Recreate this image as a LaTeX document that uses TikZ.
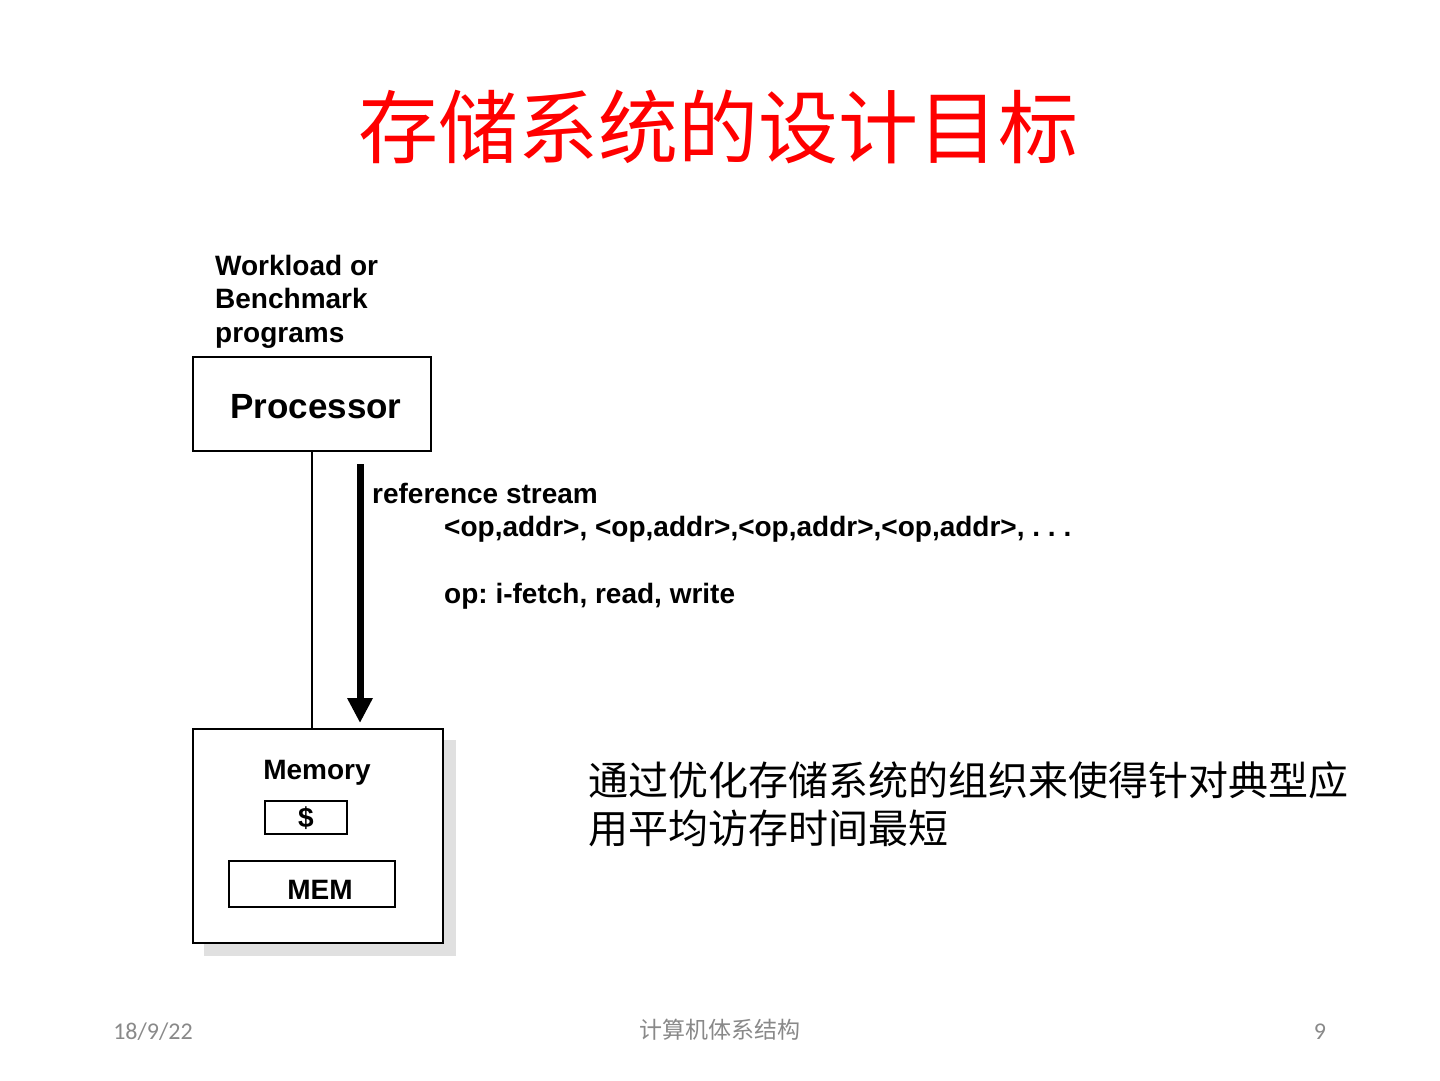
\documentclass[tikz,border=0pt]{standalone}
\usepackage{fontspec}
\setmainfont{Liberation Sans}
\newfontfamily\cjk{Noto Sans CJK SC}
\newfontfamily\foot{Carlito}
\usetikzlibrary{arrows.meta}
\definecolor{footgray}{RGB}{137,137,137}
\definecolor{shadowgray}{RGB}{224,224,224}
\frenchspacing
\tikzset{
  lbl/.style={inner sep=0pt, font=\fontsize{28}{33}\selectfont\bfseries, anchor=base west},
  lblc/.style={inner sep=0pt, font=\fontsize{28}{33}\selectfont\bfseries, anchor=base},
  boxx/.style={draw=black, line width=2pt, fill=white, inner sep=0pt},
  cn/.style={inner sep=0pt, font=\cjk\fontsize{40}{48}\selectfont, anchor=base west},
  ft/.style={inner sep=0pt, text=footgray, anchor=base}
}
\begin{document}
\begin{tikzpicture}[x=1pt,y=-1pt]
\useasboundingbox (0,0) rectangle (1440,1080);
% title
\node[inner sep=0pt, anchor=base, text=red, font=\cjk\fontsize{80}{90}\selectfont] (title) at (718,157) {存储系统的设计目标};
% workload
\node[lbl] (w1) at (215,275) {Workload or};
\node[lbl] (w2) at (215,308) {Benchmark};
\node[lbl] (w3) at (215,342) {programs};
% processor
\node[boxx, minimum width=238pt, minimum height=94pt] (proc) at (312,404) {};
\node[inner sep=0pt, anchor=base, font=\fontsize{35}{40}\selectfont\bfseries] (proct) at (316,418) {Processor};
% memory shadow and box
\fill[shadowgray] (204,740) rectangle (456,956);
\node[boxx, minimum width=250pt, minimum height=214pt] (mem) at (318,836) {};
\node[lblc] (memt) at (317,779) {Memory};
\node[boxx, minimum width=82pt, minimum height=33pt] (cache) at (306,817.5) {};
\node[lblc] (cachet) at (306,827) {\$};
\node[boxx, minimum width=166pt, minimum height=46pt] (mm) at (312,884) {};
\node[lblc] (mmt) at (320,899) {MEM};
% bus line
\draw[line width=1.3pt] (proc.south) -- (mem.north -| proc.south);
% reference stream arrow
\coordinate (a1) at (360,464);
\coordinate (a2) at (360,723);
\draw[line width=7pt, -{Triangle[width=24pt,length=25pt]}] (a1) -- (a2);
\node[lbl] (r1) at (372,503) {reference stream};
\node[lbl] (r2) at (444,536) {<op,addr>, <op,addr>,<op,addr>,<op,addr>, . . .};
\node[lbl] (r3) at (444,603) {op: i-fetch, read, write};
% chinese text
\node[cn] (c1) at (588,795) {通过优化存储系统的组织来使得针对典型应};
\node[cn] (c2) at (588,843) {用平均访存时间最短};
% footer
\node[ft, font=\foot\fontsize{24}{28}\selectfont] (date) at (153,1039) {18/9/22};
\node[ft, font=\cjk\fontsize{23}{28}\selectfont] (course) at (720,1038) {计算机体系结构};
\node[ft, font=\foot\fontsize{24}{28}\selectfont] (page) at (1320,1039) {9};
\end{tikzpicture}
\end{document}
